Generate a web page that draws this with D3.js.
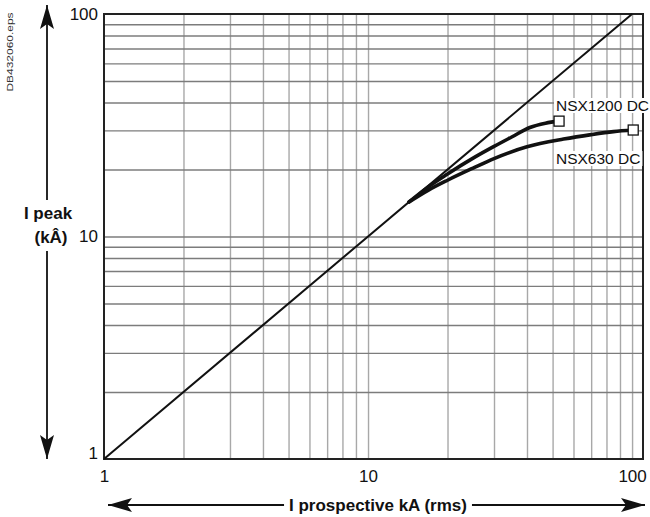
<!DOCTYPE html>
<html><head><meta charset="utf-8">
<script src="https://cdn.jsdelivr.net/npm/d3@7"></script>
<style>
html,body{margin:0;padding:0;background:#fff;}
svg{display:block;font-family:"Liberation Sans",Arial,Helvetica,sans-serif;}
</style></head>
<body><svg id="c" width="650" height="517"></svg>
<script>
// ---- data ----
const xLabelTicks = [1, 10, 100];
const yLabelTicks = [1, 10, 100];
const xGrid = [2,3,4,5,6,7,8,9,10,20,30,40,50,60,70,80,90,100];
const yGrid = [2,3,4,5,6,7,8,9,10,20,30,40,50,60,70,80,90];
const diagonalX = [1, 100];
const diagonalY = [1, 100];
const nsx1200X = [14.3, 17, 20, 25, 30, 35, 41, 47, 52.9];
const nsx1200Y = [14.3, 16.8, 19.1, 22.5, 25.4, 28.0, 30.9, 32.3, 33.0];
const nsx630X = [14.3, 17, 20, 25, 30, 40, 55, 70, 85, 101];
const nsx630Y = [14.3, 16.2, 17.9, 20.3, 22.4, 25.3, 27.4, 28.7, 29.6, 30.1];
const seriesNames = ["NSX1200 DC", "NSX630 DC"];
const xTitle = "I prospective kA (rms)";
const yTitle = ["I peak", "(kÂ)"];
const fileTag = "DB432060.eps";

const svg = d3.select("#c");
const x = d3.scaleLog().domain([1, 110]).range([104, 643]);
const y = d3.scaleLog().domain([1, 100]).range([459, 14]);
const L = 104, R = 643, T = 14, B = 459;

// gridlines
svg.append("g").attr("transform", `translate(0,${B})`)
  .call(d3.axisBottom(x).tickValues(xGrid).tickSize(-(B - T)).tickFormat(""))
  .call(g => g.select(".domain").remove())
  .call(g => g.selectAll("line").attr("stroke", "#a8a8a8").attr("stroke-width", 1.4));
svg.append("g").attr("transform", `translate(${L},0)`)
  .call(d3.axisLeft(y).tickValues(yGrid).tickSize(-(R - L)).tickFormat(""))
  .call(g => g.select(".domain").remove())
  .call(g => g.selectAll("line").attr("stroke", "#7c7c7c").attr("stroke-width", 1.4));

// border
svg.append("rect").attr("x", L).attr("y", T).attr("width", R - L).attr("height", B - T)
  .attr("fill", "none").attr("stroke", "#222").attr("stroke-width", 2);

// tick labels
svg.append("g").attr("transform", `translate(0,${B})`)
  .call(d3.axisBottom(x).tickValues(xLabelTicks).tickSize(0).tickPadding(11).tickFormat(d3.format("d")))
  .call(g => g.select(".domain").remove())
  .call(g => g.selectAll("text").attr("font-size", 17).attr("fill", "#111")
     .attr("font-family", "Liberation Sans, Arial, sans-serif"));
svg.append("g").attr("transform", `translate(${L},0)`)
  .call(d3.axisLeft(y).tickValues(yLabelTicks).tickSize(0).tickPadding(6).tickFormat(d3.format("d")))
  .call(g => g.select(".domain").remove())
  .call(g => g.selectAll("text").attr("font-size", 17).attr("fill", "#111")
     .attr("font-family", "Liberation Sans, Arial, sans-serif")
     .attr("transform", d => d === 1 ? "translate(0,-6)" : null));

// diagonal
const line = d3.line().x(d => x(d[0])).y(d => y(d[1]));
svg.append("path").datum(d3.zip(diagonalX, diagonalY)).attr("d", line)
  .attr("fill", "none").attr("stroke", "#111").attr("stroke-width", 2);

// curves
const curveLine = d3.line().x(d => x(d[0])).y(d => y(d[1])).curve(d3.curveMonotoneX);
const series = [d3.zip(nsx1200X, nsx1200Y), d3.zip(nsx630X, nsx630Y)];
series.forEach(s => {
  svg.append("path").datum(s).attr("d", curveLine)
    .attr("fill", "none").attr("stroke", "#111").attr("stroke-width", 3.6).attr("stroke-linecap", "round");
});
// end squares
series.forEach(s => {
  const p = s[s.length - 1];
  svg.append("rect").attr("x", x(p[0]) - 5).attr("y", y(p[1]) - 5).attr("width", 10).attr("height", 10)
    .attr("fill", "#fff").attr("stroke", "#111").attr("stroke-width", 1.3);
});

// series labels with white backing
const labelPos = [[556, 111], [556, 164]];
seriesNames.forEach((n, i) => {
  const t = svg.append("text").attr("x", labelPos[i][0]).attr("y", labelPos[i][1])
    .attr("font-size", 15.5).attr("fill", "#111").text(n);
  const bb = t.node().getBBox();
  svg.insert("rect", () => t.node()).attr("x", bb.x - 2).attr("y", bb.y + 1)
    .attr("width", bb.width + 4).attr("height", bb.height - 2).attr("fill", "#fff");
});

// arrows marker
const defs = svg.append("defs");
defs.append("marker").attr("id", "ah").attr("viewBox", "0 0 24 14").attr("refX", 24).attr("refY", 7)
  .attr("markerWidth", 24).attr("markerHeight", 14).attr("markerUnits", "userSpaceOnUse").attr("orient", "auto")
  .append("path").attr("d", "M0,0 L24,7 L0,14 L5,7 Z").attr("fill", "#111");

// x title with arrows
const xt = svg.append("text").attr("x", 378).attr("y", 511).attr("text-anchor", "middle")
  .attr("font-size", 17).attr("font-weight", "bold").attr("fill", "#111").text(xTitle);
const xb = xt.node().getBBox();
svg.append("line").attr("x1", xb.x - 5).attr("y1", 505).attr("x2", 108).attr("y2", 505)
  .attr("stroke", "#111").attr("stroke-width", 1.8).attr("marker-end", "url(#ah)");
svg.append("line").attr("x1", xb.x + xb.width + 5).attr("y1", 505).attr("x2", 645).attr("y2", 505)
  .attr("stroke", "#111").attr("stroke-width", 1.8).attr("marker-end", "url(#ah)");

// y title with arrows
svg.append("text").attr("x", 48).attr("y", 219).attr("text-anchor", "middle")
  .attr("font-size", 17).attr("font-weight", "bold").attr("fill", "#111").text(yTitle[0]);
svg.append("text").attr("x", 51).attr("y", 243).attr("text-anchor", "middle")
  .attr("font-size", 17).attr("font-weight", "bold").attr("fill", "#111").text(yTitle[1]);
svg.append("line").attr("x1", 47).attr("y1", 200).attr("x2", 47).attr("y2", 5)
  .attr("stroke", "#111").attr("stroke-width", 1.8).attr("marker-end", "url(#ah)");
svg.append("line").attr("x1", 47).attr("y1", 251).attr("x2", 47).attr("y2", 459)
  .attr("stroke", "#111").attr("stroke-width", 1.8).attr("marker-end", "url(#ah)");

// file tag
svg.append("text").attr("transform", "translate(13,52) rotate(-90)").attr("text-anchor", "middle")
  .attr("font-size", 9).attr("fill", "#333").attr("textLength", 79).attr("lengthAdjust", "spacingAndGlyphs")
  .text(fileTag);
</script></body></html>
